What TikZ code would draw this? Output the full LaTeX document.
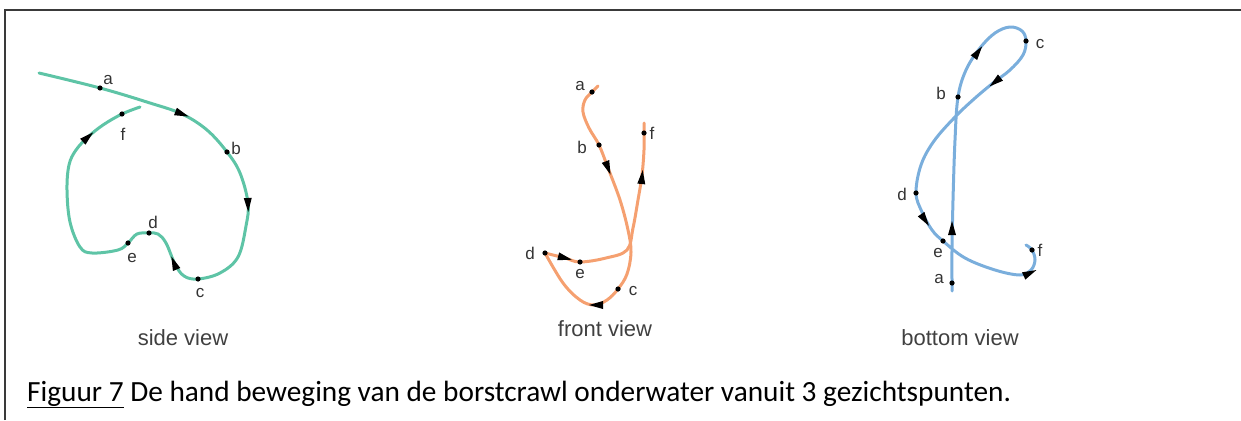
\documentclass[tikz,border=0pt]{standalone}
\usepackage{fontspec}
\setmainfont{Carlito}
\newfontfamily\helv{Liberation Sans}
\usetikzlibrary{calc}
\definecolor{sidegreen}{HTML}{5EC4A6}
\definecolor{frontorange}{HTML}{F5A070}
\definecolor{bottomblue}{HTML}{7AAEDC}
\definecolor{framegray}{HTML}{3A3A3A}

\tikzset{
  stroke/.style={line width=3pt,line cap=round,line join=round},
  lbl/.style={font=\helv\fontsize{17}{17}\selectfont,text=black!80,inner sep=1pt},
  viewlbl/.style={font=\helv\fontsize{22}{22}\selectfont,text=black!75,inner sep=1pt},
  tipmark/.pic={\fill[black] (7,0) -- (-7,4) -- (-7,-4) -- cycle;}
}

\begin{document}
\begin{tikzpicture}[x=1pt,y=-1pt]
  \useasboundingbox (0,0) rectangle (1241,420);
  \draw[framegray,line width=2pt] (5,420) -- (5,10) -- (1241,10);

  % side view
  \coordinate (ga) at (100,88);
  \coordinate (gb) at (227,152);
  \coordinate (gc) at (198,279);
  \coordinate (gd) at (149,233);
  \coordinate (ge) at (128,243);
  \coordinate (gf) at (122,114);
  \draw[sidegreen,stroke] plot[smooth,tension=0.6] coordinates {(39,73) (ga) (150,103) (182,114)
    (207,130) (gb) (240,173) (248,203) (246,226) (238,257) (220,273) (gc) (184,276) (175,264)
    (166,243) (158,234) (gd) (137,234) (ge) (118,250) (92,253) (80,247) (70,222) (67,190)
    (69,165) (76,150) (88,137) (103,125) (gf) (140,107)};
  \foreach \p in {ga,gb,gc,gd,ge,gf} \fill (\p) circle (2.6);
  \pic[rotate=-21] at (182,114) {tipmark};
  \pic[rotate=-88] at (248,205) {tipmark};
  \pic[rotate=112] at (174,263) {tipmark};
  \pic[rotate=42] at (88,137) {tipmark};
  \node[lbl] (la) at (108,80) {a};
  \node[lbl] (lb) at (236,148) {b};
  \node[lbl] (lc) at (200,293) {c};
  \node[lbl] (ld) at (153,222) {d};
  \node[lbl] (le) at (132,258) {e};
  \node[lbl] (lf) at (123,134) {f};
  \node[viewlbl] (side) at (183,338) {side view};

  % front view
  \coordinate (oa) at (592,92);
  \coordinate (ob) at (599,145);
  \coordinate (oc) at (618,289);
  \coordinate (od) at (545,253);
  \coordinate (oe) at (580,262);
  \coordinate (of) at (644,133);
  \draw[frontorange,stroke] plot[smooth,tension=0.6] coordinates {(598,86) (oa) (585,100)
    (583,112) (589,128) (ob) (608,168) (620,200) (628,230) (631,252) (627,274) (oc) (607,300)
    (594,305) (580,300) (563,283) (od)};
  \draw[frontorange,stroke] plot[smooth,tension=0.6] coordinates {(od) (565,258) (oe)
    (606,258) (627,250) (633,228) (638,200) (642,175) (644,150) (of) (644,123)};
  \foreach \p in {oa,ob,oc,od,oe,of} \fill (\p) circle (2.6);
  \pic[rotate=-69] at (608,168) {tipmark};
  \pic[rotate=180] at (596,305) {tipmark};
  \pic[rotate=-14] at (565,258) {tipmark};
  \pic[rotate=84] at (642,177) {tipmark};
  \node[lbl] (ma) at (580,86) {a};
  \node[lbl] (mb) at (582,147) {b};
  \node[lbl] (mc) at (633,291) {c};
  \node[lbl] (md) at (530,253) {d};
  \node[lbl] (me) at (580,274) {e};
  \node[lbl] (mf) at (652,133) {f};
  \node[viewlbl] (front) at (605,329) {front view};

  % bottom view
  \coordinate (ba) at (952,283);
  \coordinate (bb) at (958,97);
  \coordinate (bc) at (1026,41);
  \coordinate (bd) at (916,193);
  \coordinate (be) at (943,241);
  \coordinate (bf) at (1032,250);
  \draw[bottomblue,stroke] plot[smooth,tension=0.6] coordinates {(952,291) (ba) (952,250)
    (953,200) (955,140) (bb) (966,70) (980,48) (995,33) (1010,27) (1022,31) (bc) (1023,55)
    (1010,70) (993,83) (974,99) (955,117) (934,141) (921,165) (bd) (922,212) (932,230) (be)
    (965,258) (995,270) (1020,275) (1031,270) (1035,260) (bf) (1026,245)};
  \foreach \p in {ba,bb,bc,bd,be,bf} \fill (\p) circle (2.6);
  \pic[rotate=90] at (952,228) {tipmark};
  \pic[rotate=54] at (978,52) {tipmark};
  \pic[rotate=219] at (995,82) {tipmark};
  \pic[rotate=-56] at (925,220) {tipmark};
  \pic[rotate=25] at (1030,273) {tipmark};
  \node[lbl] (na) at (939,279) {a};
  \node[lbl] (nb) at (941,93) {b};
  \node[lbl] (nc) at (1040,44) {c};
  \node[lbl] (nd) at (902,194) {d};
  \node[lbl] (ne) at (938,253) {e};
  \node[lbl] (nf) at (1040,250) {f};
  \node[viewlbl] (bottom) at (960,338) {bottom view};

  \node[anchor=base west,inner sep=0pt,font=\fontsize{29.3}{29.3}\selectfont] (caption) at (27,401)
    {\underline{Figuur 7} De hand beweging van de borstcrawl onderwater vanuit 3 gezichtspunten.};
\end{tikzpicture}
\end{document}
